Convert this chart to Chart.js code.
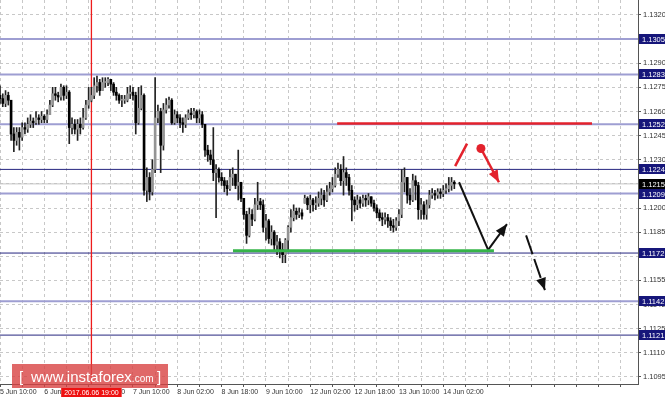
<!DOCTYPE html>
<html>
<head>
<meta charset="utf-8">
<script src="https://cdn.jsdelivr.net/npm/chart.js"></script>
<style>
  html, body { margin: 0; padding: 0; background: #ffffff; }
  #wrap { width: 665px; height: 400px; position: relative; }
  canvas { display: block; }
</style>
</head>
<body>
<div id="wrap"><canvas id="chart" width="665" height="400"></canvas></div>
<script>
// EUR/USD, H1 candles from 5 Jun 10:00 to 14 Jun 06:00 (weekend hours skipped)
const candleOpen = [
  1.1270,1.1268,1.1265,1.1270,1.1267,1.1246,1.1242,1.1247,1.1244,1.1250,
  1.1249,1.1252,1.1254,1.1253,1.1256,1.1255,1.1257,1.1255,1.1258,1.1264,
  1.1271,1.1270,1.1269,1.1275,1.1270,1.1272,1.1250,1.1252,1.1249,1.1252,
  1.1250,1.1256,1.1264,1.1267,1.1270,1.1276,1.1278,1.1273,1.1278,1.1278,
  1.1280,1.1277,1.1272,1.1270,1.1267,1.1267,1.1267,1.1271,1.1272,1.1270,
  1.1253,1.1262,1.1270,1.1211,1.1219,1.1210,1.1224,1.1256,1.1260,1.1239,
  1.1261,1.1264,1.1267,1.1253,1.1258,1.1256,1.1253,1.1252,1.1256,1.1259,
  1.1258,1.1260,1.1256,1.1258,1.1252,1.1236,1.1233,1.1230,1.1222,1.1224,
  1.1219,1.1217,1.1214,1.1212,1.1219,1.1221,1.1214,1.1216,1.1206,1.1196,
  1.1183,1.1196,1.1193,1.1202,1.1204,1.1202,1.1188,1.1192,1.1181,1.1185,
  1.1177,1.1179,1.1174,1.1171,1.1180,1.1188,1.1194,1.1198,1.1196,1.1197,
  1.1203,1.1206,1.1202,1.1205,1.1202,1.1203,1.1206,1.1208,1.1205,1.1210,
  1.1212,1.1214,1.1221,1.1224,1.1217,1.1222,1.1219,1.1211,1.1205,1.1202,
  1.1205,1.1203,1.1206,1.1205,1.1207,1.1203,1.1200,1.1197,1.1194,1.1193,
  1.1194,1.1192,1.1189,1.1188,1.1192,1.1196,1.1216,1.1219,1.1208,1.1205,
  1.1217,1.1214,1.1199,1.1202,1.1196,1.1202,1.1208,1.1209,1.1208,1.1210,
  1.1209,1.1211,1.1212,1.1214,1.1216
];
const candleHigh = [
  1.1276,1.1271,1.1273,1.1272,1.1267,1.1250,1.1250,1.1250,1.1253,1.1253,
  1.1256,1.1258,1.1256,1.1260,1.1258,1.1260,1.1258,1.1261,1.1267,1.1275,
  1.1275,1.1272,1.1277,1.1276,1.1276,1.1273,1.1256,1.1255,1.1255,1.1256,
  1.1262,1.1267,1.1275,1.1275,1.1281,1.1282,1.1280,1.1281,1.1281,1.1281,
  1.1280,1.1278,1.1275,1.1271,1.1270,1.1270,1.1275,1.1276,1.1275,1.1272,
  1.1275,1.1276,1.1271,1.1225,1.1222,1.1230,1.1281,1.1264,1.1262,1.1265,
  1.1268,1.1269,1.1268,1.1261,1.1260,1.1258,1.1256,1.1258,1.1261,1.1262,
  1.1262,1.1261,1.1261,1.1260,1.1252,1.1239,1.1236,1.1250,1.1227,1.1225,
  1.1222,1.1219,1.1217,1.1224,1.1225,1.1221,1.1236,1.1212,1.1206,1.1198,
  1.1200,1.1199,1.1206,1.1216,1.1206,1.1205,1.1196,1.1193,1.1189,1.1186,
  1.1183,1.1181,1.1178,1.1181,1.1189,1.1199,1.1202,1.1200,1.1200,1.1199,
  1.1208,1.1207,1.1208,1.1206,1.1207,1.1210,1.1212,1.1211,1.1214,1.1216,
  1.1219,1.1225,1.1228,1.1227,1.1232,1.1225,1.1221,1.1214,1.1207,1.1208,
  1.1207,1.1208,1.1208,1.1209,1.1207,1.1205,1.1202,1.1199,1.1197,1.1197,
  1.1196,1.1194,1.1193,1.1194,1.1199,1.1224,1.1225,1.1219,1.1212,1.1221,
  1.1220,1.1216,1.1206,1.1204,1.1205,1.1211,1.1212,1.1211,1.1212,1.1212,
  1.1214,1.1215,1.1219,1.1219,1.1217
];
const candleLow = [
  1.1265,1.1263,1.1263,1.1264,1.1242,1.1235,1.1239,1.1236,1.1242,1.1246,
  1.1247,1.1250,1.1250,1.1252,1.1252,1.1253,1.1253,1.1253,1.1258,1.1263,
  1.1267,1.1266,1.1267,1.1267,1.1268,1.1240,1.1246,1.1246,1.1242,1.1246,
  1.1249,1.1255,1.1262,1.1266,1.1268,1.1272,1.1270,1.1273,1.1275,1.1276,
  1.1273,1.1270,1.1267,1.1265,1.1263,1.1265,1.1266,1.1268,1.1267,1.1246,
  1.1252,1.1261,1.1208,1.1204,1.1205,1.1208,1.1222,1.1253,1.1222,1.1236,
  1.1259,1.1262,1.1252,1.1252,1.1253,1.1250,1.1247,1.1250,1.1255,1.1255,
  1.1256,1.1253,1.1253,1.1250,1.1232,1.1229,1.1227,1.1217,1.1194,1.1216,
  1.1214,1.1210,1.1208,1.1211,1.1214,1.1212,1.1205,1.1204,1.1193,1.1178,
  1.1182,1.1189,1.1192,1.1199,1.1199,1.1185,1.1180,1.1178,1.1177,1.1174,
  1.1171,1.1169,1.1166,1.1166,1.1174,1.1185,1.1192,1.1193,1.1194,1.1193,
  1.1204,1.1199,1.1197,1.1198,1.1199,1.1201,1.1202,1.1201,1.1204,1.1208,
  1.1210,1.1213,1.1219,1.1214,1.1208,1.1214,1.1208,1.1192,1.1198,1.1199,
  1.1200,1.1201,1.1201,1.1202,1.1201,1.1198,1.1194,1.1192,1.1189,1.1190,
  1.1188,1.1186,1.1185,1.1186,1.1189,1.1194,1.1210,1.1203,1.1202,1.1204,
  1.1205,1.1193,1.1193,1.1193,1.1193,1.1200,1.1206,1.1205,1.1206,1.1206,
  1.1207,1.1209,1.1210,1.1211,1.1212
];
const candleClose = [
  1.1268,1.1265,1.1270,1.1267,1.1246,1.1242,1.1247,1.1244,1.1250,1.1249,
  1.1252,1.1254,1.1253,1.1256,1.1255,1.1257,1.1255,1.1258,1.1264,1.1271,
  1.1270,1.1269,1.1275,1.1270,1.1272,1.1250,1.1252,1.1249,1.1252,1.1250,
  1.1256,1.1264,1.1267,1.1270,1.1276,1.1278,1.1273,1.1278,1.1278,1.1280,
  1.1277,1.1272,1.1270,1.1267,1.1267,1.1267,1.1271,1.1272,1.1270,1.1253,
  1.1262,1.1270,1.1211,1.1219,1.1210,1.1224,1.1256,1.1260,1.1239,1.1261,
  1.1264,1.1267,1.1253,1.1258,1.1256,1.1253,1.1252,1.1256,1.1259,1.1258,
  1.1260,1.1256,1.1258,1.1252,1.1236,1.1233,1.1230,1.1222,1.1224,1.1219,
  1.1217,1.1214,1.1212,1.1219,1.1221,1.1214,1.1216,1.1206,1.1196,1.1183,
  1.1196,1.1193,1.1202,1.1204,1.1202,1.1188,1.1192,1.1181,1.1185,1.1177,
  1.1179,1.1174,1.1171,1.1180,1.1188,1.1194,1.1198,1.1196,1.1197,1.1195,
  1.1206,1.1202,1.1205,1.1202,1.1203,1.1206,1.1208,1.1205,1.1210,1.1212,
  1.1214,1.1221,1.1224,1.1217,1.1222,1.1219,1.1211,1.1205,1.1202,1.1205,
  1.1203,1.1206,1.1205,1.1207,1.1203,1.1200,1.1197,1.1194,1.1193,1.1194,
  1.1192,1.1189,1.1188,1.1192,1.1196,1.1216,1.1219,1.1208,1.1205,1.1217,
  1.1214,1.1199,1.1202,1.1196,1.1202,1.1208,1.1209,1.1208,1.1210,1.1209,
  1.1211,1.1212,1.1214,1.1216,1.1215
];

// Time axis: one label every 16 hourly bars, grid every 8 bars
const timeLabels = ['5 Jun 10:00','6 Jun 02:00','6 Jun 18:00','7 Jun 10:00','8 Jun 02:00',
  '8 Jun 18:00','9 Jun 10:00','12 Jun 02:00','12 Jun 18:00','13 Jun 10:00','14 Jun 02:00'];
const labelEvery = 16;
const gridEvery = 8;

// Price axis ticks
const priceTicks = [1.1095,1.1110,1.1125,1.1140,1.1155,1.1170,1.1185,1.1200,
  1.1215,1.1230,1.1245,1.1260,1.1275,1.1290,1.1305,1.1320];

// Horizontal levels (price, strong = thin dark line)
const levelPrices = [1.1305, 1.1283, 1.1252, 1.1224, 1.1209, 1.1172, 1.1142, 1.1121];
const levelStrong = [false, false, false, true, false, true, false, true];
const bidPrice = 1.1215;

// Marked time (bar index) and its label
const markedBar = 33;
const markedLabel = '2017.06.06 19:00';

// Scenario drawings: [bar index, price] pairs
const resistanceZone = [[121.7, 1.12525], [213.7, 1.12525]];
const supportZone = [[84.1, 1.11735], [178.3, 1.11735]];
const redStroke = [[164.3, 1.1226], [168.6, 1.1240]];
const redArrow = [[173.6, 1.1237], [180.1, 1.1216]];
const blackDrop = [[165.7, 1.1216], [176.2, 1.1174]];
const blackRebound = [[176.2, 1.1174], [183.0, 1.1190]];
const blackBreak = [[189.9, 1.1183], [196.7, 1.1149]];

const X_MIN = 0, X_MAX = 230.3;
const Y_MIN = 1.10906, Y_MAX = 1.13293;
const FONT = "'Liberation Sans', Arial, sans-serif";

const bars = candleClose.map((_, i) => i);
const bodyColors = bars.map(i => candleClose[i] >= candleOpen[i] ? '#949494' : '#000000');
const toXY = pts => pts.map(p => ({ x: p[0], y: p[1] }));
const hLine = p => [{ x: X_MIN, y: p }, { x: X_MAX, y: p }];

const datasets = [];

// candle bodies and wicks
datasets.push({
  type: 'bar', order: 1, grouped: false, barThickness: 2, minBarLength: 1,
  data: bars.map(i => ({ x: i, y: [candleOpen[i], candleClose[i]] })),
  backgroundColor: bodyColors, borderWidth: 0
});
datasets.push({
  type: 'bar', order: 2, grouped: false, barThickness: 1,
  data: bars.map(i => ({ x: i, y: [
    Math.min(candleLow[i], candleOpen[i], candleClose[i]),
    Math.max(candleHigh[i], candleOpen[i], candleClose[i])] })),
  backgroundColor: '#222222', borderWidth: 0
});

// level lines
levelPrices.forEach((p, k) => {
  datasets.push({
    type: 'line', order: 5, data: hLine(p),
    borderColor: levelStrong[k] ? '#25257f' : '#9e9ed2',
    borderWidth: levelStrong[k] ? 1 : 2, pointRadius: 0, pointHoverRadius: 0, fill: false
  });
});
datasets.push({
  type: 'line', order: 4, data: hLine(bidPrice),
  borderColor: '#c4c4c4', borderWidth: 1, pointRadius: 0, pointHoverRadius: 0, fill: false
});
datasets.push({
  type: 'line', order: 3,
  data: [{ x: markedBar, y: Y_MIN }, { x: markedBar, y: Y_MAX }],
  borderColor: '#ee1c1c', borderWidth: 1.3, pointRadius: 0, pointHoverRadius: 0, fill: false
});

// scenario lines and arrows
const drawing = (pts, color, width, extra) => Object.assign({
  type: 'line', order: 0, data: toXY(pts), borderColor: color, borderWidth: width,
  pointRadius: 0, pointHoverRadius: 0, fill: false, tension: 0
}, extra || {});
datasets.push(drawing(resistanceZone, '#e3222c', 2.5));
datasets.push(drawing(supportZone, '#36b449', 3));
datasets.push(drawing(redStroke, '#e3222c', 2.5));
datasets.push(drawing(redArrow, '#e3222c', 2.5, {
  pointRadius: [4.5, 0], pointBackgroundColor: '#e3222c', pointBorderWidth: 0,
  arrowHead: { length: 12, width: 10 }
}));
datasets.push(drawing(blackDrop, '#111111', 2));
datasets.push(drawing(blackRebound, '#111111', 2, { arrowHead: { length: 12, width: 10 } }));
datasets.push(drawing(blackBreak, '#111111', 2, {
  borderDash: [20, 5], arrowHead: { length: 12, width: 10 }
}));

const arrowHeads = {
  id: 'arrowHeads',
  afterDatasetsDraw(chart) {
    const ctx = chart.ctx;
    chart.data.datasets.forEach((ds, di) => {
      if (!ds.arrowHead) return;
      const pts = chart.getDatasetMeta(di).data;
      const a = pts[pts.length - 2], b = pts[pts.length - 1];
      const ang = Math.atan2(b.y - a.y, b.x - a.x);
      const len = ds.arrowHead.length, half = ds.arrowHead.width / 2;
      const bx = b.x - len * Math.cos(ang), by = b.y - len * Math.sin(ang);
      ctx.save();
      ctx.fillStyle = ds.borderColor;
      ctx.beginPath();
      ctx.moveTo(b.x, b.y);
      ctx.lineTo(bx + half * Math.sin(ang), by - half * Math.cos(ang));
      ctx.lineTo(bx - half * Math.sin(ang), by + half * Math.cos(ang));
      ctx.closePath();
      ctx.fill();
      ctx.restore();
    });
  }
};

const priceBoxes = {
  id: 'priceBoxes',
  afterDraw(chart) {
    const ctx = chart.ctx;
    const ys = chart.scales.y, xs = chart.scales.x;
    const area = chart.chartArea;
    ctx.save();
    ctx.font = '7.5px ' + FONT;
    ctx.textBaseline = 'middle';
    ctx.textAlign = 'left';
    const box = (p, bg) => {
      const y = Math.round(ys.getPixelForValue(p));
      ctx.fillStyle = bg;
      ctx.fillRect(area.right + 1, y - 5, 27, 10);
      ctx.fillStyle = '#ffffff';
      ctx.fillText(p.toFixed(4), area.right + 4, y + 0.5);
    };
    levelPrices.forEach(p => box(p, '#16167a'));
    box(bidPrice, '#000000');

    // marked time label under the axis
    const mx = xs.getPixelForValue(markedBar);
    ctx.font = '7px ' + FONT;
    const tw = ctx.measureText(markedLabel).width;
    ctx.fillStyle = '#ee1111';
    ctx.fillRect(mx - tw / 2 - 3, area.bottom + 4, tw + 6, 9);
    ctx.fillStyle = '#ffffff';
    ctx.textAlign = 'center';
    ctx.fillText(markedLabel, mx, area.bottom + 8.8);

    // brand plate
    ctx.fillStyle = 'rgba(216,66,66,0.8)';
    ctx.fillRect(12, 364, 156, 24);
    ctx.fillStyle = '#ffffff';
    ctx.textAlign = 'left';
    ctx.textBaseline = 'alphabetic';
    ctx.font = '15px ' + FONT;
    ctx.fillText('[', 19, 382);
    ctx.fillText(']', 157, 382);
    ctx.fillText('www.instaforex', 31, 382);
    const w1 = ctx.measureText('www.instaforex').width;
    ctx.font = '10px ' + FONT;
    ctx.fillText('.com', 31 + w1, 382);
    ctx.restore();
  }
};

new Chart(document.getElementById('chart'), {
  type: 'bar',
  data: { datasets },
  options: {
    responsive: false,
    animation: false,
    devicePixelRatio: 1,
    events: [],
    layout: { padding: 0, autoPadding: false },
    plugins: { legend: { display: false }, tooltip: { enabled: false } },
    scales: {
      x: {
        type: 'linear', min: X_MIN, max: X_MAX, offset: false,
        grid: { offset: false, color: '#c8c8c8', lineWidth: 1, drawTicks: true, tickLength: 3, tickColor: '#555555' },
        border: { display: true, color: '#555555', width: 1, dash: [3, 3] },
        ticks: {
          autoSkip: false, maxRotation: 0, minRotation: 0, align: 'start', padding: 1,
          color: '#333333', font: { family: FONT, size: 7 },
          callback: v => (v % labelEvery === 0 ? (timeLabels[v / labelEvery] || '') : '')
        },
        afterBuildTicks: s => {
          const t = [];
          for (let h = 0; h <= X_MAX; h += gridEvery) t.push({ value: h });
          s.ticks = t;
        },
        afterFit: s => { s.height = 16; s.paddingLeft = 0; s.paddingRight = 0; }
      },
      y: {
        type: 'linear', position: 'right', min: Y_MIN, max: Y_MAX,
        grid: { color: '#c8c8c8', lineWidth: 1, drawTicks: true, tickLength: 3, tickColor: '#555555' },
        border: { display: true, color: '#555555', width: 1, dash: [3, 3] },
        ticks: {
          padding: 2, color: '#333333', font: { family: FONT, size: 7.5 },
          callback: v => v.toFixed(4)
        },
        afterBuildTicks: s => { s.ticks = priceTicks.map(v => ({ value: v })); },
        afterFit: s => { s.width = 27; s.paddingTop = 0; s.paddingBottom = 0; }
      }
    }
  },
  plugins: [arrowHeads, priceBoxes]
});
</script>
</body>
</html>
